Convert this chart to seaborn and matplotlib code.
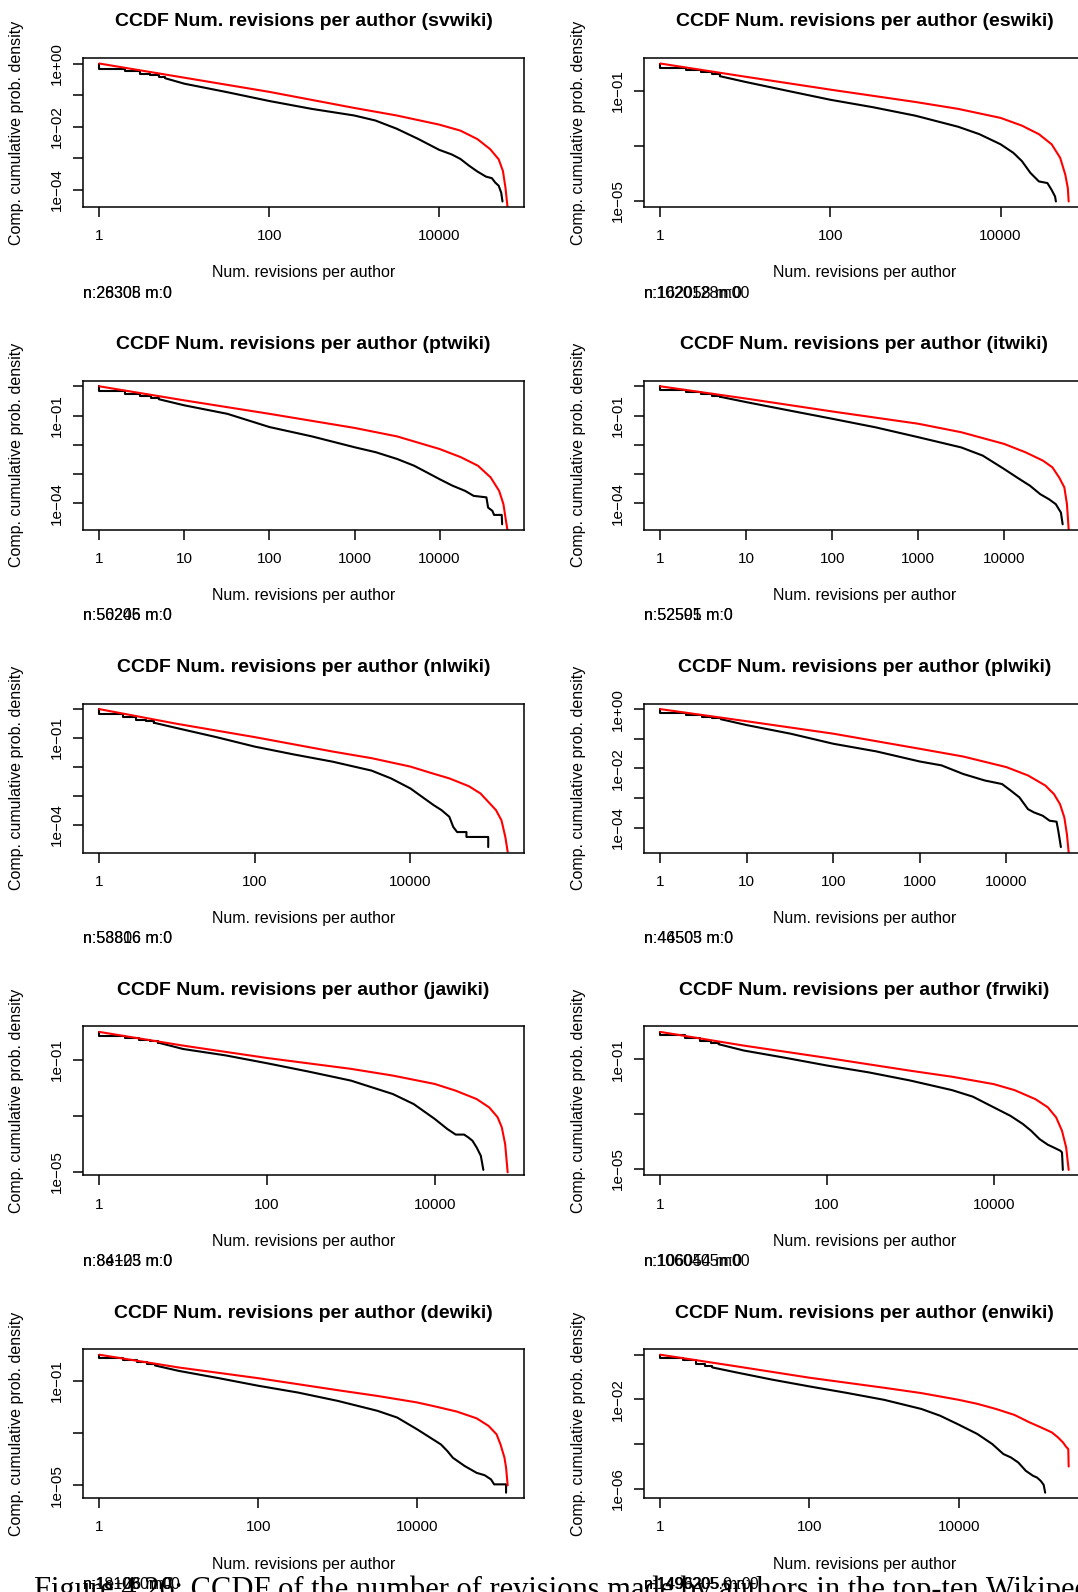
import matplotlib
matplotlib.use("Agg")
import numpy as np
import matplotlib.pyplot as plt
from matplotlib.ticker import NullLocator
import seaborn as sns

sv_emp_x = [1, 1, 2, 3, 4, 5, 6, 10, 32, 100, 316, 1000, 1778, 3162, 5623, 10000, 14125, 17783,
            22387, 28184, 35481, 41687, 45709, 50119, 53703, 55590]
sv_emp_y = [1, 0.692, 0.589, 0.479, 0.417, 0.372, 0.339, 0.229, 0.123, 6.46e-2, 3.63e-2, 2.24e-2,
            1.55e-2, 8.51e-3, 4.07e-3, 1.82e-3, 1.29e-3, 9.33e-4, 5.75e-4, 3.72e-4, 2.57e-4, 2.29e-4,
            1.66e-4, 1.32e-4, 7.94e-5, 4.17e-5]
sv_fit_x = [1, 10, 100, 1000, 3162, 10000, 17783, 28184, 39811, 50119, 56234, 60256, 63973]
sv_fit_y = [1, 0.355, 0.126, 3.89e-2, 2.24e-2, 1.15e-2, 7.41e-3, 3.98e-3, 1.91e-3, 9.12e-4,
            3.89e-4, 1.15e-4, 2.51e-5]

es_emp_x = [1, 1, 2, 3, 4, 5, 10, 32, 100, 316, 1000, 3162, 5623, 10000, 14125, 17783, 22387,
            28184, 35481, 39811, 43652, 44668]
es_emp_y = [1, 0.708, 0.575, 0.501, 0.407, 0.347, 0.214, 0.1, 4.79e-2, 2.57e-2, 1.26e-2, 5.01e-3,
            2.69e-3, 1.15e-3, 5.62e-4, 2.82e-4, 1.05e-4, 5.13e-5, 4.47e-5, 2.51e-5, 1.45e-5, 9.55e-6]
es_fit_x = [1, 10, 100, 1000, 3162, 10000, 17783, 28184, 39811, 50119, 57544, 61660, 63096]
es_fit_y = [1, 0.331, 0.112, 3.98e-2, 2.24e-2, 1.05e-2, 5.50e-3, 2.69e-3, 1.15e-3, 3.72e-4,
            9.12e-5, 2.95e-5, 9.55e-6]

pt_emp_x = [1, 1, 2, 3, 4, 5, 10, 32, 100, 316, 1000, 1778, 3162, 5012, 7079, 10000, 14125, 19953,
            25119, 35481, 37154, 41687, 43652, 53703, 54325]
pt_emp_y = [1, 0.692, 0.562, 0.479, 0.398, 0.363, 0.224, 0.115, 4.07e-2, 1.95e-2, 8.32e-3, 5.62e-3,
            3.31e-3, 1.95e-3, 1.15e-3, 6.76e-4, 4.07e-4, 2.69e-4, 1.82e-4, 1.62e-4, 7.24e-5, 5.62e-5,
            4.07e-5, 4.07e-5, 1.95e-5]
pt_fit_x = [1, 10, 100, 1000, 3162, 10000, 17783, 28184, 39811, 50119, 56234, 60256, 63096]
pt_fit_y = [1, 0.331, 0.115, 3.80e-2, 1.95e-2, 7.24e-3, 3.80e-3, 1.95e-3, 7.76e-4, 2.69e-4,
            9.55e-5, 2.57e-5, 1.12e-5]

it_emp_x = [1, 1, 2, 3, 4, 5, 10, 32, 100, 316, 1000, 3162, 5623, 10000, 14125, 19953, 26303,
            33113, 39811, 45709, 47863]
it_emp_y = [1, 0.724, 0.617, 0.525, 0.479, 0.437, 0.288, 0.148, 7.76e-2, 3.98e-2, 1.82e-2, 8.13e-3,
            4.27e-3, 1.48e-3, 7.59e-4, 3.98e-4, 2.04e-4, 1.38e-4, 9.33e-5, 4.79e-5, 1.91e-5]
it_fit_x = [1, 10, 100, 1000, 3162, 10000, 17783, 28184, 36308, 43652, 50119, 53703, 56234]
it_fit_y = [1, 0.380, 0.138, 5.25e-2, 2.69e-2, 1.07e-2, 5.50e-3, 2.88e-3, 1.70e-3, 7.59e-4,
            3.47e-4, 9.33e-5, 1.26e-5]

nl_emp_x = [1, 1, 2, 3, 4, 5, 10, 32, 100, 316, 1000, 3162, 5623, 10000, 14125, 19953, 25119,
            31623, 35481, 39811, 52481, 52481, 100000, 100000]
nl_emp_y = [1, 0.692, 0.550, 0.427, 0.380, 0.339, 0.219, 0.107, 5.01e-2, 2.69e-2, 1.51e-2, 7.41e-3,
            3.98e-3, 1.78e-3, 9.12e-4, 4.68e-4, 3.16e-4, 1.86e-4, 8.32e-5, 5.50e-5, 5.50e-5, 3.72e-5,
            3.72e-5, 1.66e-5]
nl_fit_x = [1, 10, 100, 1000, 3162, 10000, 17783, 31623, 56234, 79433, 100000, 125893, 147911,
            165959, 177828]
nl_fit_y = [1, 0.309, 0.107, 3.39e-2, 2.0e-2, 1.02e-2, 6.31e-3, 3.98e-3, 2.14e-3, 1.20e-3,
            6.17e-4, 3.16e-4, 1.41e-4, 3.72e-5, 1.15e-5]

pl_emp_x = [1, 1, 2, 3, 4, 5, 10, 32, 100, 316, 1000, 1778, 3162, 5623, 8913, 11220, 14125, 17783,
            20893, 26303, 31623, 38019, 39811, 42658]
pl_emp_y = [1, 0.75, 0.646, 0.550, 0.501, 0.457, 0.288, 0.148, 6.76e-2, 3.72e-2, 1.70e-2, 1.26e-2,
            6.46e-3, 3.89e-3, 2.95e-3, 1.78e-3, 1.05e-3, 4.17e-4, 3.24e-4, 2.51e-4, 1.70e-4, 1.58e-4,
            7.76e-5, 2.19e-5]
pl_fit_x = [1, 10, 100, 1000, 3162, 10000, 17783, 28184, 35481, 41687, 46774, 50119, 52481]
pl_fit_y = [1, 0.389, 0.148, 4.57e-2, 2.51e-2, 1.10e-2, 5.75e-3, 2.63e-3, 1.35e-3, 6.17e-4,
            2.19e-4, 5.89e-5, 1.45e-5]

ja_emp_x = [1, 1, 2, 3, 4, 5, 10, 32, 100, 316, 1000, 3162, 5623, 10000, 14125, 17783, 22387,
            25119, 28184, 31623, 35481, 38019]
ja_emp_y = [1, 0.741, 0.617, 0.525, 0.468, 0.417, 0.245, 0.145, 7.59e-2, 3.80e-2, 1.82e-2, 6.03e-3,
            2.63e-3, 7.76e-4, 3.39e-4, 2.14e-4, 2.14e-4, 1.70e-4, 1.29e-4, 7.41e-5, 3.72e-5, 1.17e-5]
ja_fit_x = [1, 10, 100, 1000, 3162, 10000, 17783, 31623, 44668, 56234, 63096, 69183, 74131]
ja_fit_y = [1, 0.324, 0.117, 4.79e-2, 2.75e-2, 1.38e-2, 7.94e-3, 3.98e-3, 2.0e-3, 8.91e-4,
            3.89e-4, 9.77e-5, 9.55e-6]

fr_emp_x = [1, 1, 2, 3, 4, 5, 10, 32, 100, 316, 1000, 3162, 5623, 10000, 15849, 22387, 28184,
            35481, 44668, 52481, 63096, 66069, 67608]
fr_emp_y = [1, 0.741, 0.589, 0.479, 0.407, 0.355, 0.209, 0.112, 5.89e-2, 3.31e-2, 1.66e-2, 7.41e-3,
            4.27e-3, 1.74e-3, 8.51e-4, 4.27e-4, 2.40e-4, 1.20e-4, 7.41e-5, 5.89e-5, 4.47e-5, 3.89e-5,
            8.91e-6]
fr_fit_x = [1, 10, 100, 1000, 3162, 10000, 17783, 31623, 44668, 56234, 66069, 74131, 79433]
fr_fit_y = [1, 0.316, 0.112, 3.80e-2, 2.29e-2, 1.23e-2, 7.41e-3, 3.47e-3, 1.74e-3, 7.41e-4,
            2.40e-4, 5.89e-5, 8.91e-6]

de_emp_x = [1, 1, 2, 3, 4, 5, 10, 32, 100, 316, 1000, 3162, 5623, 10000, 14125, 19953, 23988,
            28184, 39811, 56234, 70795, 85114, 93325, 131826, 131826]
de_emp_y = [1, 0.741, 0.617, 0.513, 0.437, 0.389, 0.240, 0.126, 6.46e-2, 3.55e-2, 1.70e-2, 7.08e-3,
            3.89e-3, 1.38e-3, 7.08e-4, 3.63e-4, 2.04e-4, 1.12e-4, 5.37e-5, 2.95e-5, 2.40e-5, 1.66e-5,
            1.07e-5, 1.07e-5, 5.13e-6]
de_fit_x = [1, 10, 100, 1000, 3162, 10000, 17783, 31623, 56234, 79433, 100000, 112202, 125893,
            131826, 138038]
de_fit_y = [1, 0.324, 0.126, 4.37e-2, 2.63e-2, 1.48e-2, 1.0e-2, 6.61e-3, 3.63e-3, 1.86e-3,
            8.91e-4, 3.63e-4, 1.12e-4, 4.68e-5, 9.77e-6]

en_emp_x = [1, 1, 2, 3, 4, 5, 10, 32, 100, 316, 1000, 3162, 5623, 10000, 17783, 28184, 39811,
            50119, 63096, 79433, 100000, 112202, 125893, 138038, 144544]
en_emp_y = [1, 0.708, 0.562, 0.398, 0.316, 0.269, 0.166, 7.59e-2, 3.80e-2, 1.95e-2, 9.55e-3,
            3.72e-3, 1.86e-3, 7.41e-4, 2.82e-4, 1.0e-4, 3.55e-5, 2.51e-5, 1.48e-5, 6.31e-6, 3.72e-6,
            3.16e-6, 2.24e-6, 1.48e-6, 6.61e-7]
en_fit_x = [1, 10, 100, 1000, 3162, 10000, 17783, 31623, 56234, 89125, 125893, 177828, 213796,
            251189, 275423, 295121, 298538]
en_fit_y = [1, 0.309, 9.33e-2, 3.31e-2, 1.91e-2, 9.55e-3, 6.31e-3, 3.72e-3, 2.0e-3, 9.33e-4,
            5.62e-4, 3.31e-4, 2.0e-4, 1.17e-4, 7.59e-5, 5.89e-5, 9.77e-6]

wikis = ["svwiki", "eswiki", "ptwiki", "itwiki", "nlwiki",
         "plwiki", "jawiki", "frwiki", "dewiki", "enwiki"]

curves = {
    "svwiki": (sv_emp_x, sv_emp_y, sv_fit_x, sv_fit_y),
    "eswiki": (es_emp_x, es_emp_y, es_fit_x, es_fit_y),
    "ptwiki": (pt_emp_x, pt_emp_y, pt_fit_x, pt_fit_y),
    "itwiki": (it_emp_x, it_emp_y, it_fit_x, it_fit_y),
    "nlwiki": (nl_emp_x, nl_emp_y, nl_fit_x, nl_fit_y),
    "plwiki": (pl_emp_x, pl_emp_y, pl_fit_x, pl_fit_y),
    "jawiki": (ja_emp_x, ja_emp_y, ja_fit_x, ja_fit_y),
    "frwiki": (fr_emp_x, fr_emp_y, fr_fit_x, fr_fit_y),
    "dewiki": (de_emp_x, de_emp_y, de_fit_x, de_fit_y),
    "enwiki": (en_emp_x, en_emp_y, en_fit_x, en_fit_y),
}

x_short = [1, 100, 10000]
x_long = [1, 10, 100, 1000, 10000]
x_ticks = {"svwiki": x_short, "eswiki": x_short, "ptwiki": x_long, "itwiki": x_long,
           "nlwiki": x_short, "plwiki": x_long, "jawiki": x_short, "frwiki": x_short,
           "dewiki": x_short, "enwiki": x_short}

# decade exponents that get a tick, and those that also get a label
y_ticks = {"svwiki": [0, -1, -2, -3, -4], "eswiki": [-1, -3, -5],
           "ptwiki": [0, -1, -2, -3, -4], "itwiki": [0, -1, -2, -3, -4],
           "nlwiki": [0, -1, -2, -3, -4], "plwiki": [0, -1, -2, -3, -4],
           "jawiki": [-1, -3, -5], "frwiki": [-1, -3, -5], "dewiki": [-1, -3, -5],
           "enwiki": [0, -2, -4, -6]}
y_labeled = {"svwiki": [0, -2, -4], "eswiki": [-1, -5], "ptwiki": [-1, -4],
             "itwiki": [-1, -4], "nlwiki": [-1, -4], "plwiki": [0, -2, -4],
             "jawiki": [-1, -5], "frwiki": [-1, -5], "dewiki": [-1, -5],
             "enwiki": [-2, -6]}

# two over-printed annotations under each panel
n_labels = {"svwiki": ("n:28308 m:0", "n:26305 m:0"),
            "eswiki": ("n:162058 m:0", "n:1020128m00"),
            "ptwiki": ("n:50205 m:0", "n:56246 m:0"),
            "itwiki": ("n:52591 m:0", "n:52505 m:0"),
            "nlwiki": ("n:58806 m:0", "n:53816 m:0"),
            "plwiki": ("n:44505 m:0", "n:46503 m:0"),
            "jawiki": ("n:8e+05 m:0", "n:84123 m:0"),
            "frwiki": ("n:106054 m:0", "n:1060405m00"),
            "dewiki": ("n:1e+06 m:0", "n:181080m00"),
            "enwiki": ("n:1496205 m:0", "n:1490205.0:n:0")}

caption = "Figure 4.26: CCDF of the number of revisions made by authors in the top-ten Wikipedias"

# --- style ---
sns.set_theme(style="white")
plt.rcParams['font.family'] = ['Liberation Sans', 'DejaVu Sans']
plt.rcParams['axes.edgecolor'] = 'black'
plt.rcParams['axes.linewidth'] = 1.1
plt.rcParams['text.color'] = 'black'
plt.rcParams['xtick.color'] = 'black'
plt.rcParams['ytick.color'] = 'black'

W, H = 1078, 1592
fig = plt.figure(figsize=(W / 100, H / 100), dpi=100)
fig.patch.set_facecolor('white')

col_left = [83, 644]
ax_w, ax_h = 441, 149
row_top0, row_step = 58, 322.8


def fx(px):
    return px / W


def fy(py):
    return 1 - py / H


def ylab(e):
    return ("1e%+03d" % e).replace("-", "\u2212")


for i, wiki in enumerate(wikis):
    r, c = divmod(i, 2)
    left = col_left[c]
    top = row_top0 + r * row_step
    ax = fig.add_axes([fx(left), fy(top + ax_h), ax_w / W, ax_h / H])
    ax.set_facecolor('white')

    ex, ey, rx, ry = (np.asarray(v, dtype=float) for v in curves[wiki])
    k = int((ex < 10).sum())
    # stepped head of the empirical curve, then the rest as a line
    sns.lineplot(x=ex[:k], y=ey[:k], ax=ax, color='black', lw=1.5,
                 drawstyle='steps-post', estimator=None, sort=False)
    sns.lineplot(x=ex[k - 1:], y=ey[k - 1:], ax=ax, color='black', lw=1.5,
                 estimator=None, sort=False)
    sns.lineplot(x=rx, y=ry, ax=ax, color='#ff0000', lw=1.5,
                 estimator=None, sort=False)

    ax.set_xscale('log')
    ax.set_yscale('log')
    lx = np.log10(np.concatenate([ex, rx]))
    pad = 0.04 * (lx.max() - lx.min())
    ax.set_xlim(10 ** (lx.min() - pad), 10 ** (lx.max() + pad))
    ly = np.log10(ey)
    pad = 0.04 * (ly.max() - ly.min())
    ax.set_ylim(10 ** (ly.min() - pad), 10 ** (ly.max() + pad))

    xt = x_ticks[wiki]
    ax.set_xticks(xt)
    ax.set_xticklabels([str(v) for v in xt])
    yt = y_ticks[wiki]
    ax.set_yticks([10.0 ** e for e in yt])
    ax.set_yticklabels([ylab(e) if e in y_labeled[wiki] else "" for e in yt])
    ax.xaxis.set_minor_locator(NullLocator())
    ax.yaxis.set_minor_locator(NullLocator())
    ax.tick_params(axis='both', direction='out', length=7, width=1.1,
                   labelsize=11, bottom=True, left=True)
    ax.tick_params(axis='x', pad=9)
    ax.tick_params(axis='y', pad=6.5, labelrotation=90)
    for lbl in ax.get_yticklabels():
        lbl.set_va('center')
    for s in ax.spines.values():
        s.set_linewidth(1.1)
        s.set_color('black')
    ax.set_xlabel("")
    ax.set_ylabel("")
    ax.grid(False)

    cx = left + ax_w / 2
    fig.text(fx(cx), fy(top - 36), "CCDF Num. revisions per author (%s)" % wiki,
             ha='center', va='center', fontsize=14, fontweight='bold')
    fig.text(fx(cx), fy(top + ax_h + 66), "Num. revisions per author",
             ha='center', va='center', fontsize=11.5)
    fig.text(fx(left - 66), fy(top + ax_h / 2), "Comp. cumulative prob. density",
             ha='center', va='center', rotation=90, fontsize=11.5)
    for s in n_labels[wiki]:
        fig.text(fx(left), fy(top + ax_h + 86), s, ha='left', va='center', fontsize=11.5)

fig.text(fx(34), fy(1598), caption, ha='left', va='baseline', fontsize=22,
         family=['Liberation Serif', 'DejaVu Serif'])

fig.savefig("out.png", dpi=100, facecolor='white')
